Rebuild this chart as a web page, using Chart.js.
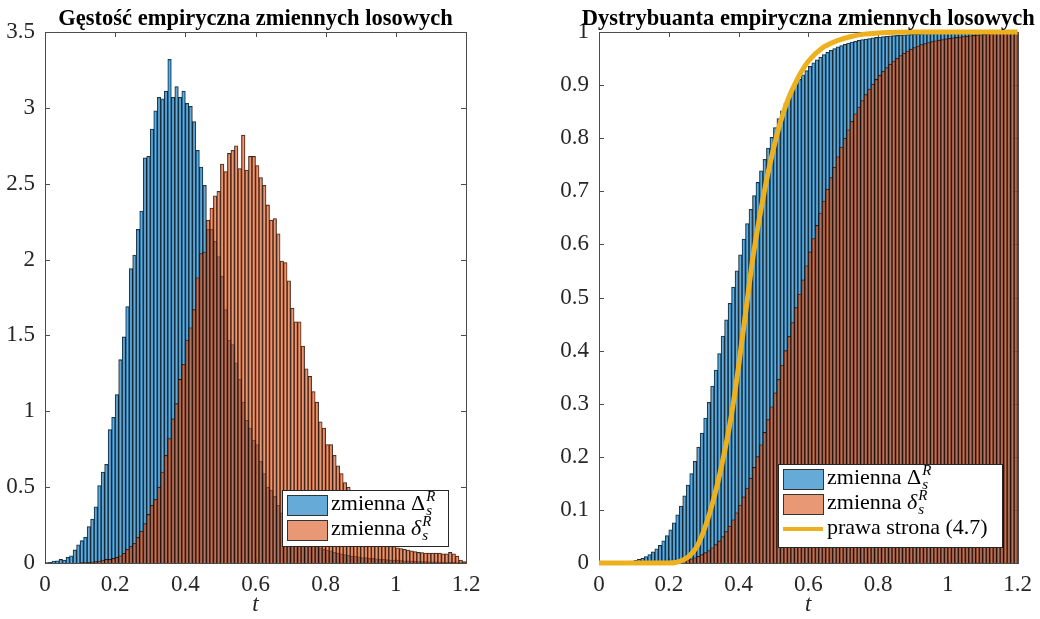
<!DOCTYPE html>
<html lang="pl">
<head>
<meta charset="UTF-8">
<title>Gęstość i dystrybuanta empiryczna</title>
<script src="https://cdn.jsdelivr.net/npm/chart.js"></script>
<style>
  html, body { margin: 0; padding: 0; background: #fff; }
  #wrap { position: relative; width: 1040px; height: 619px; }
  canvas { position: absolute; top: 0; }
  #gestosc { left: 0; }
  #dystrybuanta { left: 520px; }
</style>
</head>
<body>
<div id="wrap">
  <canvas id="gestosc" width="520" height="619"></canvas>
  <canvas id="dystrybuanta" width="520" height="619"></canvas>
</div>
<script>
// środki przedziałów histogramu (szerokość 0.01)
const srodki = [
  0.005,0.015,0.025,0.035,0.045,0.055,0.065,0.075,0.085,0.095,
  0.105,0.115,0.125,0.135,0.145,0.155,0.165,0.175,0.185,0.195,
  0.205,0.215,0.225,0.235,0.245,0.255,0.265,0.275,0.285,0.295,
  0.305,0.315,0.325,0.335,0.345,0.355,0.365,0.375,0.385,0.395,
  0.405,0.415,0.425,0.435,0.445,0.455,0.465,0.475,0.485,0.495,
  0.505,0.515,0.525,0.535,0.545,0.555,0.565,0.575,0.585,0.595,
  0.605,0.615,0.625,0.635,0.645,0.655,0.665,0.675,0.685,0.695,
  0.705,0.715,0.725,0.735,0.745,0.755,0.765,0.775,0.785,0.795,
  0.805,0.815,0.825,0.835,0.845,0.855,0.865,0.875,0.885,0.895,
  0.905,0.915,0.925,0.935,0.945,0.955,0.965,0.975,0.985,0.995,
  1.005,1.015,1.025,1.035,1.045,1.055,1.065,1.075,1.085,1.095,
  1.105,1.115,1.125,1.135,1.145,1.155,1.165,1.175,1.185,1.195
];

// gęstość empiryczna zmiennej Delta_s^R (niebieska)
const gestoscDuza = [
  0.003,0.005,0.013,0.015,0.024,0.020,0.037,0.048,0.086,0.120,
  0.147,0.170,0.240,0.290,0.370,0.510,0.600,0.650,0.880,0.960,
  1.110,1.340,1.490,1.690,1.940,2.030,2.200,2.320,2.670,2.680,
  2.860,2.980,3.070,3.060,3.110,3.320,3.070,3.140,3.070,3.110,
  3.030,3.010,2.910,2.720,2.610,2.490,2.200,2.200,2.120,2.020,
  1.890,1.670,1.470,1.440,1.320,1.210,1.060,0.940,0.890,0.810,
  0.780,0.670,0.590,0.500,0.480,0.440,0.380,0.330,0.300,0.270,
  0.240,0.220,0.190,0.170,0.150,0.140,0.120,0.110,0.100,0.090,
  0.085,0.080,0.070,0.065,0.060,0.055,0.050,0.045,0.045,0.040,
  0.035,0.035,0.030,0.030,0.028,0.025,0.025,0.022,0.020,0.020,
  0.018,0.016,0.015,0.014,0.012,0.012,0.010,0.010,0.009,0.008,
  0.007,0.007,0.006,0.005,0.005,0.004,0.004,0.003,0.003,0.002
];

// gęstość empiryczna zmiennej delta_s^R (pomarańczowa)
const gestoscMala = [
  0,0,0,0,0,0,0,0,0,0,
  0.002,0.003,0.004,0.006,0.009,0.013,0.020,0.024,0.024,0.030,
  0.037,0.048,0.064,0.090,0.110,0.130,0.170,0.210,0.260,0.320,
  0.380,0.420,0.500,0.600,0.710,0.820,0.950,1.050,1.210,1.310,
  1.470,1.550,1.670,1.880,2.040,2.050,2.260,2.340,2.420,2.450,
  2.630,2.580,2.700,2.720,2.750,2.600,2.820,2.590,2.680,2.680,
  2.620,2.540,2.490,2.360,2.260,2.270,2.170,1.990,1.980,1.860,
  1.680,1.590,1.590,1.430,1.280,1.230,1.130,1.060,0.930,0.890,
  0.780,0.780,0.710,0.640,0.590,0.530,0.500,0.460,0.400,0.360,
  0.320,0.280,0.250,0.220,0.190,0.170,0.150,0.130,0.120,0.110,
  0.100,0.095,0.090,0.085,0.080,0.075,0.070,0.068,0.066,0.065,
  0.065,0.065,0.065,0.060,0.060,0.070,0.060,0.045,0.020,0.010
];

// prawa strona (4.7) - krzywa teoretyczna
const prawaT = [0, 0.10, 0.20, 0.22, 0.24, 0.26, 0.28, 0.30, 0.32, 0.34, 0.36, 0.38, 0.40, 0.42,
  0.44, 0.46, 0.48, 0.50, 0.52, 0.54, 0.56, 0.58, 0.60, 0.64, 0.68, 0.72, 0.76, 0.80, 0.90, 1.00, 1.10, 1.20];
const prawaF = [0, 0, 0, 0.001, 0.005, 0.014, 0.030, 0.060, 0.100, 0.150, 0.210, 0.280, 0.370, 0.470,
  0.570, 0.650, 0.720, 0.780, 0.830, 0.870, 0.900, 0.925, 0.945, 0.970, 0.983, 0.991, 0.996, 0.998, 1, 1, 1, 1];

// etykiety osi
const tickiT = [0, 0.2, 0.4, 0.6, 0.8, 1, 1.2];
const tickiGestosc = [0, 0.5, 1, 1.5, 2, 2.5, 3, 3.5];
const tickiDystr = [0, 0.1, 0.2, 0.3, 0.4, 0.5, 0.6, 0.7, 0.8, 0.9, 1];

// kolory MATLAB-a (FaceAlpha 0.6)
const niebieski = 'rgba(0,114,189,0.6)';
const pomaranczowy = 'rgba(217,83,25,0.6)';
const zolty = '#EDB120';
const SERIF = '"Liberation Serif", "DejaVu Serif", serif';

// dystrybuanta = skumulowana suma histogramu
function dystrybuanta(gest) {
  const suma = gest.reduce((a, b) => a + b, 0);
  let acc = 0;
  return gest.map(v => { acc += v; return acc / suma; });
}

function punkty(xs, ys) {
  return xs.map((x, i) => ({ x: x, y: ys[i] }));
}

function fmt(v) {
  return String(Math.round(v * 100) / 100);
}

// ramka osi z tickami do środka (jak w MATLAB-ie)
const ramkaPlugin = {
  id: 'ramka',
  beforeDatasetsDraw(chart) {
    const ctx = chart.ctx;
    const a = chart.chartArea;
    const sx = chart.scales.x, sy = chart.scales.y;
    ctx.save();
    ctx.strokeStyle = '#4d4d4d';
    ctx.lineWidth = 1;
    ctx.strokeRect(Math.round(a.left) + 0.5, Math.round(a.top) + 0.5,
      Math.round(a.right - a.left), Math.round(a.bottom - a.top));
    ctx.beginPath();
    sx.ticks.forEach(t => {
      const px = Math.round(sx.getPixelForValue(t.value)) + 0.5;
      ctx.moveTo(px, a.bottom); ctx.lineTo(px, a.bottom - 5);
      ctx.moveTo(px, a.top); ctx.lineTo(px, a.top + 5);
    });
    sy.ticks.forEach(t => {
      const py = Math.round(sy.getPixelForValue(t.value)) + 0.5;
      ctx.moveTo(a.left, py); ctx.lineTo(a.left + 5, py);
      ctx.moveTo(a.right, py); ctx.lineTo(a.right - 5, py);
    });
    ctx.stroke();
    ctx.restore();
  },
  afterDraw(chart, args, opts) {
    const ctx = chart.ctx;
    const a = chart.chartArea;
    ctx.save();
    ctx.fillStyle = '#000';
    ctx.font = 'bold 22.5px ' + SERIF;
    ctx.textAlign = 'center';
    ctx.textBaseline = 'alphabetic';
    ctx.fillText(opts.tytul, (a.left + a.right) / 2, 25);
    ctx.restore();
  }
};

// tekst z indeksem dolnym i górnym
function tekstMat(ctx, x, y, przed, symbol, symKursywa, dol, gora) {
  ctx.font = '22px ' + SERIF;
  ctx.fillText(przed, x, y);
  x += ctx.measureText(przed).width;
  ctx.font = (symKursywa ? 'italic ' : '') + '22px ' + SERIF;
  ctx.fillText(symbol, x, y);
  x += ctx.measureText(symbol).width + 1;
  ctx.font = 'italic 15px ' + SERIF;
  ctx.fillText(dol, x, y + 5);
  ctx.fillText(gora, x, y - 9);
}

const legendaPlugin = {
  id: 'legendaMat',
  afterDraw(chart, args, o) {
    const ctx = chart.ctx;
    ctx.save();
    ctx.fillStyle = '#fff';
    ctx.fillRect(o.x, o.y, o.w, o.h);
    ctx.strokeStyle = '#262626';
    ctx.lineWidth = 1;
    ctx.strokeRect(o.x + 0.5, o.y + 0.5, o.w, o.h);
    o.wpisy.forEach((w, k) => {
      const cy = o.y + o.pierwszy + k * o.krok;
      const px = o.x + 5;
      if (w.typ === 'latka') {
        ctx.fillStyle = w.kolor;
        ctx.fillRect(px, cy - 10, 40, 20);
        ctx.strokeStyle = '#333';
        ctx.strokeRect(px + 0.5, cy - 10 + 0.5, 40, 20);
      } else {
        ctx.strokeStyle = w.kolor;
        ctx.lineWidth = 4;
        ctx.beginPath();
        ctx.moveTo(px, cy); ctx.lineTo(px + 40, cy);
        ctx.stroke();
        ctx.lineWidth = 1;
      }
      ctx.fillStyle = '#000';
      ctx.textAlign = 'left';
      ctx.textBaseline = 'alphabetic';
      if (w.symbol) {
        tekstMat(ctx, px + 44, cy + 5, w.tekst, w.symbol, w.kursywa, 's', 'R');
      } else {
        ctx.font = '22px ' + SERIF;
        ctx.fillText(w.tekst, px + 44, cy + 5);
      }
    });
    ctx.restore();
  }
};

function osie(yMax, szerY) {
  return {
    x: {
      type: 'linear', min: 0, max: 1.2, offset: false,
      grid: { display: false, drawTicks: false },
      border: { display: false },
      afterBuildTicks: s => { s.ticks = tickiT.map(v => ({ value: v })); },
      ticks: { padding: 8, color: '#262626', font: { family: SERIF, size: 23 }, callback: fmt, maxRotation: 0 },
      title: { display: true, text: 't', color: '#262626', padding: { top: 0, bottom: 0 },
        font: { family: SERIF, size: 23, style: 'italic' } },
      afterFit: s => { s.height = 56; }
    },
    y: {
      min: 0, max: yMax,
      grid: { display: false, drawTicks: false },
      border: { display: false },
      afterBuildTicks: s => { s.ticks = (yMax > 1 ? tickiGestosc : tickiDystr).map(v => ({ value: v })); },
      ticks: { padding: 10, color: '#262626', font: { family: SERIF, size: 23 }, callback: fmt },
      afterFit: s => { s.width = szerY; }
    }
  };
}

function slupki(label, dane, kolor, kolejnosc) {
  return {
    type: 'bar', label: label, data: punkty(srodki, dane),
    backgroundColor: kolor, borderColor: 'rgba(0,0,0,0.85)', borderWidth: 0.6,
    barPercentage: 1, categoryPercentage: 1, grouped: false, order: kolejnosc
  };
}

// lewy wykres - gęstość
new Chart(document.getElementById('gestosc'), {
  type: 'bar',
  data: {
    datasets: [
      slupki('zmienna Δ', gestoscDuza, niebieski, 2),
      slupki('zmienna δ', gestoscMala, pomaranczowy, 1)
    ]
  },
  options: {
    responsive: false, animation: false,
    layout: { padding: { left: 0, right: 54, top: 32, bottom: 0 } },
    scales: osie(3.5, 45),
    plugins: {
      legend: { display: false }, tooltip: { enabled: false },
      ramka: { tytul: 'Gęstość empiryczna zmiennych losowych' },
      legendaMat: {
        x: 282, y: 490, w: 166, h: 56, pierwszy: 15, krok: 25,
        wpisy: [
          { typ: 'latka', kolor: niebieski, tekst: 'zmienna ', symbol: 'Δ', kursywa: false },
          { typ: 'latka', kolor: pomaranczowy, tekst: 'zmienna ', symbol: 'δ', kursywa: true }
        ]
      }
    }
  },
  plugins: [ramkaPlugin, legendaPlugin]
});

// prawy wykres - dystrybuanta
new Chart(document.getElementById('dystrybuanta'), {
  type: 'bar',
  data: {
    datasets: [
      slupki('zmienna Δ', dystrybuanta(gestoscDuza), niebieski, 2),
      slupki('zmienna δ', dystrybuanta(gestoscMala), pomaranczowy, 1),
      {
        type: 'line', label: 'prawa strona (4.7)', data: punkty(prawaT, prawaF),
        borderColor: zolty, borderWidth: 5, pointRadius: 0, fill: false,
        cubicInterpolationMode: 'monotone', clip: false, order: 0
      }
    ]
  },
  options: {
    responsive: false, animation: false,
    layout: { padding: { left: 0, right: 21, top: 32, bottom: 0 } },
    scales: osie(1, 79),
    plugins: {
      legend: { display: false }, tooltip: { enabled: false },
      ramka: { tytul: 'Dystrybuanta empiryczna zmiennych losowych' },
      legendaMat: {
        x: 258, y: 464, w: 224, h: 83, pierwszy: 15, krok: 25,
        wpisy: [
          { typ: 'latka', kolor: niebieski, tekst: 'zmienna ', symbol: 'Δ', kursywa: false },
          { typ: 'latka', kolor: pomaranczowy, tekst: 'zmienna ', symbol: 'δ', kursywa: true },
          { typ: 'linia', kolor: zolty, tekst: 'prawa strona (4.7)' }
        ]
      }
    }
  },
  plugins: [ramkaPlugin, legendaPlugin]
});
</script>
</body>
</html>
